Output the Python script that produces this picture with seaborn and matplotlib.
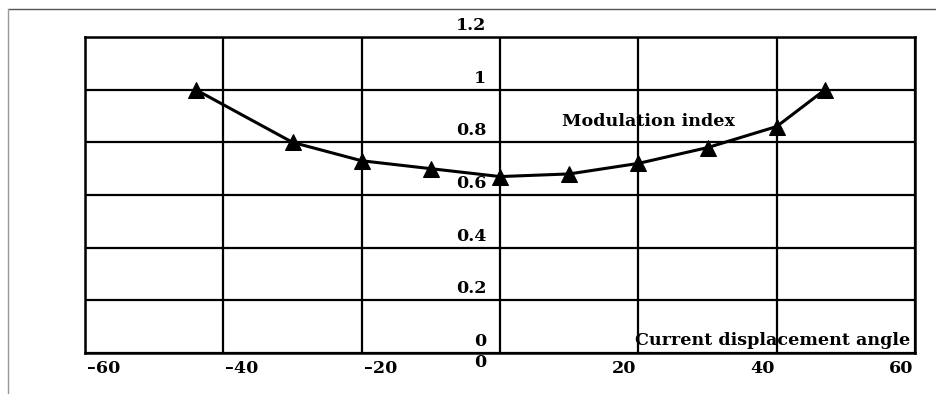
import numpy as np
import pandas as pd
import seaborn as sns
import matplotlib.pyplot as plt
from matplotlib.lines import Line2D

# data
angle = [-44, -30, -20, -10, 0, 10, 20, 30, 40, 47]
mod_index = [1.0, 0.80, 0.73, 0.70, 0.67, 0.68, 0.72, 0.78, 0.86, 1.0]
x_ticks = [-60, -40, -20, 0, 20, 40, 60]
x_labels = ['–60', '–40', '–20', '0', '20', '40', '60']
y_ticks = [0, 0.2, 0.4, 0.6, 0.8, 1.0, 1.2]
y_labels = ['0', '0.2', '0.4', '0.6', '0.8', '1', '1.2']

df = pd.DataFrame({'angle': angle, 'mod': mod_index})

sns.set_style('white')
plt.rcParams['font.family'] = ['DejaVu Serif']
plt.rcParams['font.weight'] = 'bold'
plt.rcParams['text.color'] = 'black'
fs = 12.6

fig = plt.figure(figsize=(9.36, 3.94), dpi=100)
ax = fig.add_axes([85/936, 1-353/394, (915-85)/936, (353-37)/394])

sns.lineplot(data=df, x='angle', y='mod', ax=ax, color='black', lw=2.2,
             marker='^', markersize=11, markeredgecolor='black')

ax.set_xlim(-60, 60)
ax.set_ylim(0, 1.2)
ax.set_xticks(x_ticks)
ax.set_yticks(y_ticks)
ax.set_xticklabels([])
ax.set_yticklabels([])
ax.tick_params(length=0)
ax.grid(True, color='black', lw=1.6)
ax.set_axisbelow(True)
for s in ax.spines.values():
    s.set_color('black')
    s.set_linewidth(1.8)
ax.set_xlabel('')
ax.set_ylabel('')

# y labels sit next to the zero line, just above each grid line
for v, lab in zip(y_ticks, y_labels):
    ax.text(-2.0, v + 0.012, lab, ha='right', va='bottom', fontsize=fs,
            fontweight='bold', clip_on=False)

# x labels below the axis, pulled inwards
for v, lab in zip(x_ticks, x_labels):
    if v < 0:
        ax.text(v + 0.3, -0.06, lab, ha='left', va='center', fontsize=fs,
                fontweight='bold', clip_on=False)
    elif v == 0:
        ax.text(-1.9, -0.035, lab, ha='right', va='center', fontsize=fs,
                fontweight='bold', clip_on=False)
    else:
        ax.text(v - 0.3, -0.06, lab, ha='right', va='center', fontsize=fs,
                fontweight='bold', clip_on=False)

ax.text(21.5, 0.88, 'Modulation index', ha='center', va='center', fontsize=fs,
        fontweight='bold')
ax.text(59.3, 0.015, 'Current displacement angle', ha='right', va='bottom',
        fontsize=fs, fontweight='bold')

# frame of the scanned page
fig.add_artist(Line2D([8/936, 1], [1-9/394, 1-9/394], color='#555555', lw=1,
                      transform=fig.transFigure))
fig.add_artist(Line2D([8/936, 8/936], [0, 1-9/394], color='#999999', lw=1,
                      transform=fig.transFigure))

fig.savefig('out.png', dpi=100)
